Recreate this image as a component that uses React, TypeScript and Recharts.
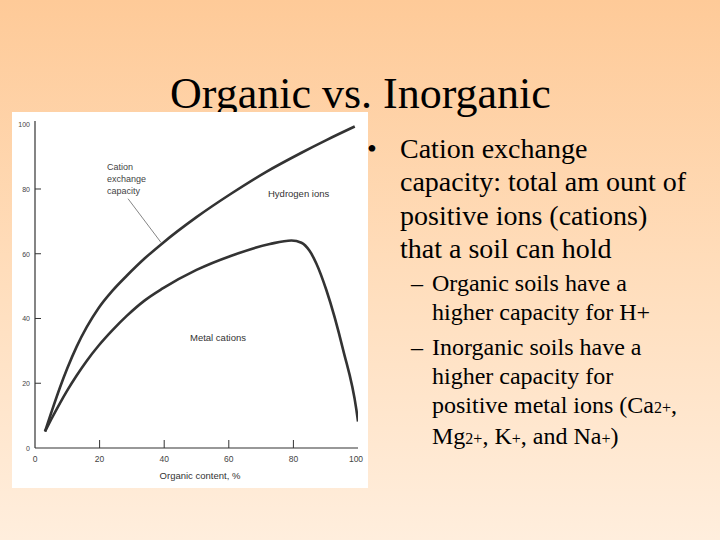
import React from "react";
import { LineChart, Line, XAxis, YAxis, ReferenceLine } from "recharts";

// organic content (%) along the x axis and the two curves
const cecX = [3.1, 5, 7.7, 10, 12.9, 16, 19.6, 24, 28.4, 34, 39.4, 50, 60.8, 71.6, 82.5, 90.2, 99];
const cecY = [5.1, 10.8, 18.6, 24.6, 31.3, 37.3, 43.1, 48.6, 53.2, 58.6, 63.2, 71.3, 78.6, 85.3, 91.2, 95.1, 99.3];

const metalX = [3.1, 5, 7.7, 10, 12.9, 16, 19.6, 24, 28.4, 34, 39.4, 50, 60.8, 72.7, 79.4, 82.5, 85, 87.1, 90.2, 95.4, 99.5, 100];
const metalY = [5.1, 8.8, 13.8, 17.8, 22.4, 26.9, 31.5, 36.4, 40.8, 45.6, 49.2, 55, 59.4, 63, 64.1, 63.4, 60.9, 57, 48.8, 30.3, 11.8, 8.2];

const xTicks = [0, 20, 40, 60, 80, 100];
const yTicks = [0, 20, 40, 60, 80, 100];

const cecData = cecX.map((x, i) => ({ x, y: cecY[i] }));
const metalData = metalX.map((x, i) => ({ x, y: metalY[i] }));

const inkColor = "#333";
const sans = '"Liberation Sans", Arial, sans-serif';
const serif = '"Liberation Serif", "Times New Roman", serif';

const XTick = (props: any) => {
  const { x, y, payload } = props;
  return (
    <g>
      {payload.value > 0 && payload.value < 100 && (
        <line x1={x} x2={x} y1={y} y2={y - 8} stroke={inkColor} strokeWidth={1} />
      )}
      <text x={x} y={y + 14} textAnchor="middle" fontSize={8.5} fill="#444" fontFamily={sans}>
        {payload.value}
      </text>
    </g>
  );
};

const YTick = (props: any) => {
  const { x, y, payload } = props;
  return (
    <g>
      {payload.value > 0 && payload.value < 100 && (
        <line x1={x} x2={x + 6} y1={y} y2={y} stroke={inkColor} strokeWidth={1} />
      )}
      <text x={x - 5} y={y + 3} textAnchor="end" fontSize={7} fill="#444" fontFamily={sans}>
        {payload.value}
      </text>
    </g>
  );
};

const small = { fontSize: 16 };

export default function App() {
  return (
    <div
      style={{
        position: "absolute",
        left: 0,
        top: 0,
        width: 720,
        height: 540,
        overflow: "hidden",
        background: "linear-gradient(to bottom, #FECA98 0%, #FFDDBB 50%, #FFEEDD 100%)",
        fontFamily: serif,
        color: "#000",
      }}
    >
      <div style={{ position: "absolute", left: 170, top: 72, fontSize: 44, lineHeight: "44px", whiteSpace: "nowrap" }}>
        Organic vs. Inorganic
      </div>

      <div style={{ position: "absolute", left: 12, top: 112, width: 356, height: 376, background: "#fff" }}>
        <LineChart width={356} height={376} margin={{ top: 9, right: 10, bottom: 0, left: 0 }}>
          <XAxis
            type="number"
            dataKey="x"
            domain={[0, 100]}
            ticks={xTicks}
            height={40}
            tickSize={0}
            tickMargin={0}
            tick={<XTick />}
            axisLine={{ stroke: inkColor, strokeWidth: 1.2 }}
            allowDataOverflow
          />
          <XAxis xAxisId="top" type="number" orientation="top" domain={[0, 100]} height={0} tick={false} tickLine={false} axisLine={{ stroke: "#666", strokeWidth: 1 }} />
          <YAxis
            type="number"
            dataKey="y"
            domain={[0, 101]}
            ticks={yTicks}
            width={23}
            tickSize={0}
            tickMargin={0}
            tick={<YTick />}
            axisLine={{ stroke: inkColor, strokeWidth: 1.2 }}
            allowDataOverflow
          />
          <YAxis yAxisId="right" type="number" orientation="right" domain={[0, 101]} width={0} tick={false} tickLine={false} axisLine={{ stroke: "#bbb", strokeWidth: 1 }} />
          <ReferenceLine
            segment={[{ x: 28.8, y: 77 }, { x: 39, y: 63.5 }]}
            stroke="#666"
            strokeWidth={0.8}
          />
          <Line data={cecData} dataKey="y" type="monotone" stroke={inkColor} strokeWidth={2.6} dot={false} isAnimationActive={false} />
          <Line data={metalData} dataKey="y" type="monotone" stroke={inkColor} strokeWidth={2.6} dot={false} isAnimationActive={false} />
        </LineChart>
      </div>

      <div style={{ position: "absolute", left: 107, top: 161, fontFamily: sans, fontSize: 9, lineHeight: "12px", color: "#444" }}>
        Cation
        <br />
        exchange
        <br />
        capacity
      </div>
      <div style={{ position: "absolute", left: 268, top: 188, fontFamily: sans, fontSize: 9.5, lineHeight: "12px", color: "#333", whiteSpace: "nowrap" }}>
        Hydrogen ions
      </div>
      <div style={{ position: "absolute", left: 190, top: 332, fontFamily: sans, fontSize: 9.5, lineHeight: "12px", color: "#333", whiteSpace: "nowrap" }}>
        Metal cations
      </div>
      <div style={{ position: "absolute", left: 100, width: 200, top: 470, textAlign: "center", fontFamily: sans, fontSize: 9.5, lineHeight: "12px", color: "#333" }}>
        Organic content, %
      </div>

      <div style={{ position: "absolute", left: 367, top: 132, fontSize: 28, lineHeight: "33.3px", whiteSpace: "nowrap" }}>
        <span style={{ position: "absolute", left: 0 }}>•</span>
        <div style={{ paddingLeft: 33 }}>
          Cation exchange
          <br />
          capacity: total am ount of
          <br />
          positive ions (cations)
          <br />
          that a soil can hold
        </div>
      </div>

      <div style={{ position: "absolute", left: 411, top: 269, fontSize: 24, lineHeight: "29px", whiteSpace: "nowrap" }}>
        <span style={{ position: "absolute", left: 0 }}>–</span>
        <div style={{ paddingLeft: 21 }}>
          Organic soils have a
          <br />
          higher capacity for H+
        </div>
      </div>

      <div style={{ position: "absolute", left: 411, top: 333, fontSize: 24, lineHeight: "29px", whiteSpace: "nowrap" }}>
        <span style={{ position: "absolute", left: 0 }}>–</span>
        <div style={{ paddingLeft: 21 }}>
          Inorganic soils have a
          <br />
          higher capacity for
          <br />
          positive metal ions (Ca<span style={small}>2+</span>,
          <br />
          Mg<span style={small}>2+</span>, K<span style={small}>+</span>, and Na<span style={small}>+</span>)
        </div>
      </div>
    </div>
  );
}
